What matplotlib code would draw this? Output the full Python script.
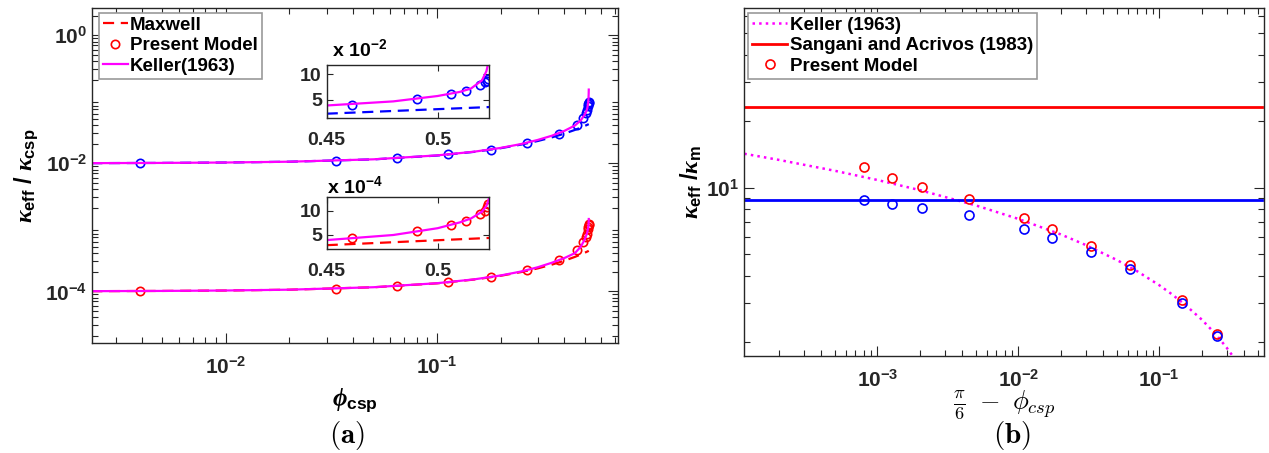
import numpy as np
import matplotlib
matplotlib.use("Agg")
import matplotlib.pyplot as plt
from matplotlib.ticker import LogLocator, NullFormatter, FixedLocator

plt.rcParams['font.family'] = 'Liberation Sans'
plt.rcParams['font.weight'] = 'bold'
plt.rcParams['mathtext.fontset'] = 'custom'
plt.rcParams['mathtext.rm'] = 'Liberation Sans:bold'
plt.rcParams['mathtext.bf'] = 'Liberation Sans:bold'
plt.rcParams['mathtext.sf'] = 'Liberation Sans:bold'
plt.rcParams['mathtext.it'] = 'Liberation Serif:italic'
plt.rcParams['axes.unicode_minus'] = False

DARK = '#262626'

# ---- panel (a): kappa_eff / kappa_csp vs phi_csp ----
phi_pts = [0.0039, 0.0331, 0.0647, 0.1128, 0.180, 0.2656, 0.3796, 0.4616,
           0.4908, 0.5062, 0.5126, 0.5191, 0.5215, 0.5223, 0.5228]
model_hi = [0.0100, 0.0109, 0.0121, 0.0139, 0.0164, 0.0207, 0.0292, 0.0400,
            0.0510, 0.0610, 0.0680, 0.0790, 0.0840, 0.0870, 0.0910]
model_lo = [1.00e-4, 1.098e-4, 1.22e-4, 1.40e-4, 1.69e-4, 2.13e-4, 3.08e-4, 4.40e-4,
            5.90e-4, 7.10e-4, 7.90e-4, 9.30e-4, 10.0e-4, 10.7e-4, 11.4e-4]

phi_curve = [0.0023, 0.005, 0.01, 0.02, 0.05, 0.1, 0.15, 0.2, 0.25, 0.3, 0.35,
             0.4, 0.45, 0.48, 0.5, 0.51, 0.515, 0.52, 0.522, 0.523, 0.5234]
maxwell_hi = [0.010067, 0.010146, 0.010294, 0.010594, 0.01153, 0.013225, 0.015112,
              0.017226, 0.019612, 0.022324, 0.025434, 0.029038, 0.033264, 0.03617,
              0.038286, 0.03941, 0.03998, 0.04057, 0.04081, 0.04093, 0.04098]
maxwell_lo = [1.0069e-4, 1.0151e-4, 1.0303e-4, 1.0612e-4, 1.1579e-4, 1.3333e-4, 1.5294e-4,
              1.75e-4, 2.0e-4, 2.2857e-4, 2.6154e-4, 3.0e-4, 3.4545e-4, 3.769e-4,
              4.0e-4, 4.122e-4, 4.186e-4, 4.25e-4, 4.276e-4, 4.289e-4, 4.295e-4]
keller_hi = [0.01007, 0.01015, 0.0103, 0.0106, 0.01155, 0.0133, 0.0152, 0.0174, 0.0200,
             0.0232, 0.0270, 0.0320, 0.0390, 0.0470, 0.0575, 0.0655, 0.0720, 0.0880,
             0.1060, 0.1250, 0.1420]
keller_lo = [1.007e-4, 1.015e-4, 1.031e-4, 1.062e-4, 1.16e-4, 1.34e-4, 1.54e-4, 1.77e-4,
             2.04e-4, 2.38e-4, 2.80e-4, 3.30e-4, 3.95e-4, 5.0e-4, 6.4e-4, 7.6e-4, 8.4e-4,
             9.8e-4, 11.0e-4, 12.2e-4, 13.5e-4]

# inset Maxwell lines (scaled by 1e-2 / 1e-4)
phi_inset_mx = [0.45, 0.5236]
maxwell_in_hi = [2.3, 3.6]
maxwell_in_lo = [2.9, 4.4]

# ---- panel (b): kappa_eff / kappa_m vs pi/6 - phi ----
delta = [8.0e-4, 1.28e-3, 2.07e-3, 4.45e-3, 1.10e-2, 1.74e-2, 3.28e-2, 6.2e-2, 0.144, 0.258]
model_b_red = [12.4, 11.1, 10.1, 8.89, 7.27, 6.50, 5.47, 4.47, 3.10, 2.18]
model_b_blue = [8.80, 8.44, 8.09, 7.52, 6.48, 5.92, 5.10, 4.27, 3.02, 2.14]
sangani_red = 23.3
sangani_blue = 8.8
keller_delta = [1.14e-4, 2e-4, 5e-4, 1e-3, 2e-3, 5e-3, 1e-2, 2e-2, 3e-2, 5e-2, 7e-2,
                0.1, 0.12, 0.15, 0.2, 0.25, 0.3, 0.35]
keller_b = [14.26, 13.38, 11.94, 10.85, 9.76, 8.32, 7.23, 6.15, 5.51, 4.71, 4.18,
            3.62, 3.33, 2.98, 2.53, 2.18, 1.89, 1.65]

W, H = 1269, 453
fig = plt.figure(figsize=(W / 100, H / 100), dpi=100)


def px_axes(x0, y0, x1, y1):
    return fig.add_axes([x0 / W, 1 - y1 / H, (x1 - x0) / W, (y1 - y0) / H])


def style(ax, major=7, minor=4):
    for s in ax.spines.values():
        s.set_color(DARK)
        s.set_linewidth(1.0)
    ax.tick_params(which='both', direction='in', top=True, right=True,
                   colors=DARK, width=0.8)
    ax.tick_params(which='major', length=major)
    ax.tick_params(which='minor', length=minor)


ax1 = px_axes(92, 8, 618, 343)
ax2 = px_axes(744.3, 8.3, 1264, 356)
ins1 = px_axes(326.7, 65, 489.3, 118.3)
ins2 = px_axes(326.7, 196.7, 489.3, 249.3)

# panel a
ax1.plot(phi_curve, maxwell_hi, '--', color='blue', lw=1.6, dashes=(5, 3))
ax1.plot(phi_curve, maxwell_lo, '--', color='red', lw=1.6, dashes=(5, 3), label='Maxwell')
ax1.plot(phi_pts, model_hi, 'o', mfc='none', mec='blue', ms=6, mew=1.2)
ax1.plot(phi_pts, model_lo, 'o', mfc='none', mec='red', ms=6, mew=1.2, label='Present Model')
ax1.plot(phi_curve, keller_hi, '-', color='magenta', lw=1.6)
ax1.plot(phi_curve, keller_lo, '-', color='magenta', lw=1.6, label='Keller(1963)')
ax1.set_xscale('log')
ax1.set_yscale('log')
ax1.set_xlim(0.00232, 0.72)
ax1.set_ylim(1.56e-5, 2.67)
ax1.xaxis.set_minor_locator(LogLocator(subs=np.arange(2, 10)))
ax1.yaxis.set_minor_locator(LogLocator(subs=np.arange(2, 10), numticks=20))
ax1.yaxis.set_major_locator(FixedLocator([1e-4, 1e-2, 1e0]))
ax1.xaxis.set_minor_formatter(NullFormatter())
ax1.yaxis.set_minor_formatter(NullFormatter())
style(ax1)
ax1.tick_params(labelsize=15)
ax1.tick_params(axis='x', pad=9)
ax1.set_xlabel(r'$\phi_{\mathbf{csp}}$', fontsize=18, va='top')
ax1.xaxis.set_label_coords(0.5, -0.13)
ax1.set_ylabel(r'$\kappa_{\mathbf{eff}}\ /\ \kappa_{\mathbf{csp}}$', fontsize=17, labelpad=4)
leg1 = ax1.legend(loc='upper left', bbox_to_anchor=(0.013, 0.985), borderaxespad=0,
                  prop={'size': 13.5, 'weight': 'bold'}, handlelength=1.35,
                  handletextpad=0.12, labelspacing=0.18, borderpad=0.2,
                  fancybox=False, framealpha=1, edgecolor='#999999')
leg1.get_frame().set_linewidth(1.2)
fig.text(346.5 / W, 1 - 436 / H, r'$\mathbf{(a)}$', math_fontfamily='cm',
         fontsize=21, ha='center', va='center')

# insets
for ins, mhi, kk, mx, col, mult, ylim in [
        (ins1, model_hi, keller_hi, maxwell_in_hi, 'blue', 1e-2, (1.4, 11.8)),
        (ins2, model_lo, keller_lo, maxwell_in_lo, 'red', 1e-4, (2.05, 12.9))]:
    ins.plot(phi_inset_mx, mx, '--', color=col, lw=1.6, dashes=(5, 3))
    ins.plot(phi_pts, np.array(mhi) / mult, 'o', mfc='none', mec=col, ms=6, mew=1.2)
    ins.plot(phi_curve, np.array(kk) / mult, '-', color='magenta', lw=1.6)
    ins.set_xlim(0.45, 0.5233)
    ins.set_ylim(*ylim)
    ins.set_xticks([0.45, 0.5])
    ins.set_xticklabels(['0.45', '0.5'])
    ins.set_yticks([5, 10])
    style(ins, major=4)
    ins.tick_params(labelsize=14)
    ins.tick_params(axis='x', pad=10)
    ins.set_facecolor('white')
fig.text(332 / W, 1 - 49 / H, r'x $\mathdefault{10^{-2}}$', fontsize=14, ha='left', va='center')
fig.text(327 / W, 1 - 186 / H, r'x $\mathdefault{10^{-4}}$', fontsize=14, ha='left', va='center')

# panel b
ax2.plot(keller_delta, keller_b, ':', color='magenta', lw=1.8, label='Keller (1963)')
ax2.axhline(sangani_red, xmax=0.9956, color='red', lw=2, label='Sangani and Acrivos (1983)')
ax2.axhline(sangani_blue, xmax=0.9956, color='blue', lw=2)
ax2.plot(delta, model_b_red, 'o', mfc='none', mec='red', ms=6.5, mew=1.2, label='Present Model')
ax2.plot(delta, model_b_blue, 'o', mfc='none', mec='blue', ms=6.5, mew=1.2)
ax2.set_xscale('log')
ax2.set_yscale('log')
ax2.set_xlim(1.14e-4, 0.553)
ax2.set_ylim(1.73, 65)
ax2.xaxis.set_minor_locator(LogLocator(subs=np.arange(2, 10)))
ax2.yaxis.set_minor_locator(LogLocator(subs=np.arange(2, 10)))
ax2.xaxis.set_minor_formatter(NullFormatter())
ax2.yaxis.set_minor_formatter(NullFormatter())
style(ax2)
ax2.tick_params(labelsize=15)
ax2.tick_params(axis='x', pad=9)
ax2.set_xlabel(r'$\frac{\pi}{6}\ -\ \phi_{csp}$', math_fontfamily='cm', fontsize=19, va='top')
ax2.xaxis.set_label_coords(0.5, -0.095)
ax2.set_ylabel(r'$\kappa_{\mathbf{eff}}\ /\kappa_{\mathbf{m}}$', fontsize=17, labelpad=2)
leg2 = ax2.legend(loc='upper left', bbox_to_anchor=(0.0071, 0.9865), borderaxespad=0,
                  prop={'size': 13.5, 'weight': 'bold'}, handlelength=1.9,
                  handletextpad=0.12, labelspacing=0.18, borderpad=0.2,
                  fancybox=False, framealpha=1, edgecolor='#999999')
leg2.get_frame().set_linewidth(1.2)
fig.text(1011.7 / W, 1 - 436 / H, r'$\mathbf{(b)}$', math_fontfamily='cm',
         fontsize=21, ha='center', va='center')

fig.savefig('out.png', dpi=100)
